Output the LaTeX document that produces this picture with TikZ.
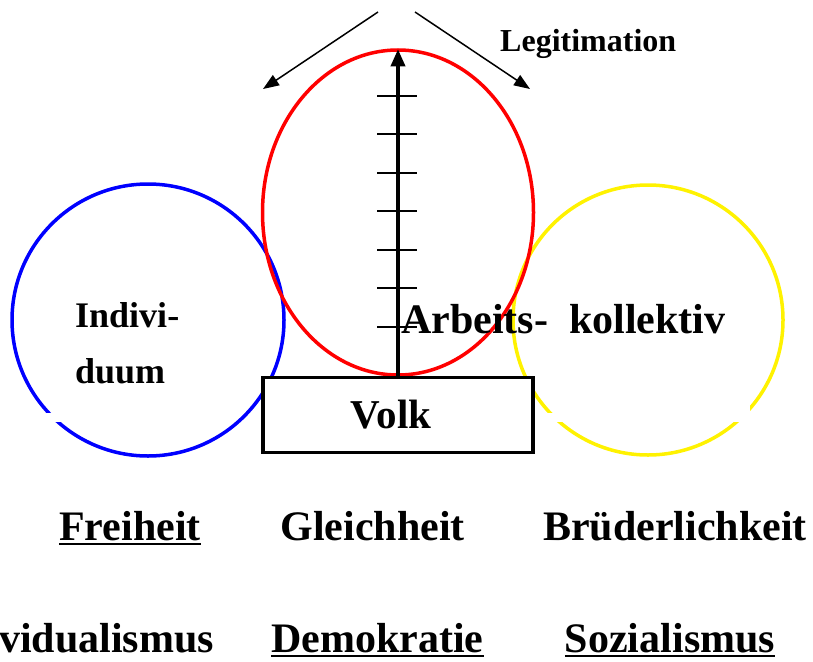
\documentclass[tikz,border=0pt]{standalone}
\usepackage{fontspec}
\setmainfont{Liberation Serif}
\usetikzlibrary{arrows.meta,shapes.geometric}
\begin{document}
\begin{tikzpicture}[x=1pt,y=-1pt,
  big/.style={font=\bfseries\fontsize{42}{50}\selectfont, inner sep=0pt, anchor=base},
  mid/.style={font=\bfseries\fontsize{36}{44}\selectfont, inner sep=0pt, anchor=base west},
  ring/.style={circle, line width=3.5pt, minimum size=#1, inner sep=0pt},
  uline/.style={line width=2pt},
  tick/.style={line width=2pt},
  thinarrow/.style={line width=1.5pt, -{Triangle[length=16pt,width=12pt]}},
  mainarrow/.style={line width=3.5pt, -{Triangle[length=17pt,width=14pt]}}
]
\useasboundingbox (0,0) rectangle (813,661);

% circles and ellipse
\node[ring=272pt, draw=blue] (blue) at (148,320) {};
\node[ring=270pt, draw=yellow] (yellow) at (648,320) {};
\node[ellipse, draw=red, line width=3.5pt, minimum width=271pt, minimum height=325pt, inner sep=0pt] (red) at (398,212.5) {};

% small white gaps in the circles
\fill[white] (30,413) rectangle (62,422);
\fill[white] (545,413) rectangle (750,422);
\fill[white] (725,402) rectangle (750,422);

% box
\node[draw, line width=3.5pt, fill=white, minimum width=270pt, minimum height=75pt, inner sep=0pt] (box) at (398,415) {};
\node[font=\bfseries\fontsize{41}{48}\selectfont, inner sep=0pt, anchor=base] (volk) at (391,428) {Volk};

% ticks
\foreach \yy in {96,134,173,211,250,288,327}
  \draw[tick] (377,\yy) -- (417,\yy);

% main arrow
\draw[mainarrow, shorten >=1pt] (box.north) -- (red.north);

% legitimation arrows
\coordinate (lt) at (378,12);
\coordinate (lh) at (263,89);
\coordinate (rt) at (415,12);
\coordinate (rh) at (530,89);
\draw[thinarrow] (lt) -- (lh);
\draw[thinarrow] (rt) -- (rh);
\node[font=\bfseries\fontsize{32}{38}\selectfont, inner sep=0pt, anchor=base west] (legit) at (500,52) {Legitimation};

% labels inside
\node[mid] (ind1) at (75,327) {Indivi-};
\node[mid] (ind2) at (75,383) {duum};
\node[big, anchor=base west] (arb) at (401,333) {Arbeits-\ \ kollektiv};

% bottom rows
\node[big] (frei) at (130,540) {Freiheit};
\node[big] (gleich) at (372.5,540) {Gleichheit};
\node[big] (bruder) at (675,540) {Brüderlichkeit};
\node[big] (indiv) at (106.5,652) {vidualismus};
\node[big] (demo) at (377.5,652) {Demokratie};
\node[big] (sozi) at (670,652) {Sozialismus};

\draw[uline] ([yshift=-3.5pt]frei.base west) -- ([yshift=-3.5pt]frei.base east);
\draw[uline] ([yshift=-3.5pt]demo.base west) -- ([yshift=-3.5pt]demo.base east);
\draw[uline] ([yshift=-3.5pt]sozi.base west) -- ([yshift=-3.5pt]sozi.base east);
\end{tikzpicture}
\end{document}
